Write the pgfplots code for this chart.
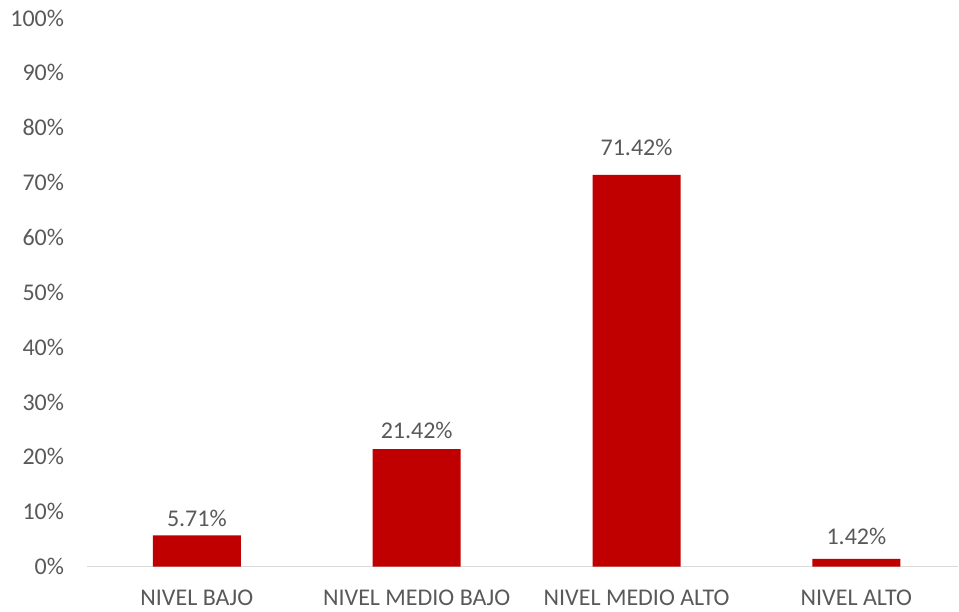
\documentclass[border=0pt]{standalone}
\usepackage{pgfplots}
\pgfplotsset{compat=1.18}
\usepackage{fontspec}
\setmainfont{Carlito}
\definecolor{barred}{HTML}{C00000}
\definecolor{txtgray}{HTML}{595959}
\definecolor{axgray}{HTML}{D9D9D9}
\begin{document}
\begin{tikzpicture}
\begin{axis}[
  at={(0,0)}, anchor=south west,
  scale only axis,
  width=654pt, height=411.75pt,
  xmin=-0.5, xmax=3.4636,
  ymin=0, ymax=100,
  axis x line*=bottom,
  axis y line*=left,
  x axis line style={draw=axgray, line width=1pt},
  y axis line style={draw=none},
  ytick={0,10,...,100},
  xtick={0,1,2,3},
  xticklabels={NIVEL BAJO, NIVEL MEDIO BAJO, NIVEL MEDIO ALTO, NIVEL ALTO},
  major tick length=0pt,
  tick style={draw=none},
  /pgf/number format/assume math mode=true,
  yticklabel={\pgfmathprintnumber{\tick}\%},
  every tick label/.style={font=\fontsize{18}{22}\selectfont, text=txtgray},
  yticklabel style={anchor=east, inner sep=0pt, xshift=-17pt},
  xticklabel style={anchor=north, yshift=-14pt},
  ybar,
  bar width=66pt,
  visualization depends on={\thisrow{gap} \as \gap},
  nodes near coords={\pgfmathprintnumber[fixed,fixed zerofill,precision=2]{\pgfplotspointmeta}\%},
  nodes near coords style={font=\fontsize{18}{22}\selectfont, text=txtgray, anchor=base, yshift=\gap pt, inner sep=0pt},
  clip=false,
]
\addplot[fill=barred, draw=none] table[x=x, y=y] {
x y gap
0 5.71 6.75
1 21.42 8.25
2 71.42 14.25
3 1.42 10.5
};
\end{axis}
\path[use as bounding box] (-65.25pt,-33.75pt) rectangle (654pt,425.25pt);
\end{tikzpicture}
\end{document}
